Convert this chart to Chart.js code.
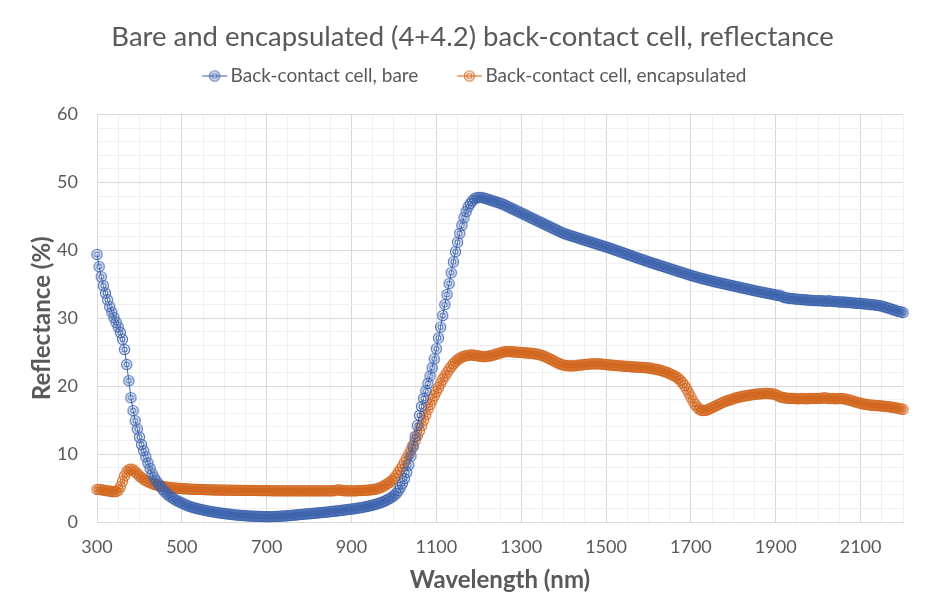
<!DOCTYPE html>
<html>
<head>
<meta charset="utf-8">
<script src="https://cdn.jsdelivr.net/npm/chart.js@4.4.1/dist/chart.umd.min.js"></script>
<style>
  html, body { margin: 0; padding: 0; background: #fff; }
  #wrap { width: 926px; height: 608px; }
</style>
</head>
<body>
<div id="wrap"><canvas id="chart"></canvas></div>
<script>
// spectra sampled every 5 nm from 300 to 2200 nm
const wlStart = 300
const wlStep = 5

// reflectance (%), one row per 100 nm
const bare = [
  39.4, 37.6, 36.1, 34.8, 33.7, 32.7, 31.7, 30.9, 30.1, 29.4, 28.7, 27.9, 26.9, 25.4, 23.2, 20.8, 18.3, 16.4, 14.9, 13.7,
  12.5, 11.4, 10.5, 9.6, 8.7, 7.9, 7.1, 6.5, 6.0, 5.6, 5.2, 4.8, 4.45, 4.15, 3.9, 3.65, 3.45, 3.25, 3.1, 2.95,
  2.8, 2.65, 2.5, 2.38, 2.27, 2.17, 2.08, 2.0, 1.92, 1.85, 1.78, 1.71, 1.65, 1.59, 1.53, 1.48, 1.43, 1.38, 1.33, 1.29,
  1.25, 1.21, 1.17, 1.13, 1.09, 1.06, 1.03, 1.0, 0.97, 0.95, 0.93, 0.91, 0.89, 0.87, 0.85, 0.84, 0.83, 0.82, 0.81, 0.8,
  0.8, 0.8, 0.8, 0.81, 0.82, 0.83, 0.85, 0.87, 0.89, 0.91, 0.93, 0.96, 0.99, 1.02, 1.05, 1.08, 1.11, 1.14, 1.17, 1.2,
  1.22, 1.25, 1.28, 1.31, 1.34, 1.37, 1.4, 1.43, 1.46, 1.49, 1.53, 1.57, 1.6, 1.63, 1.67, 1.71, 1.75, 1.79, 1.83, 1.87,
  1.91, 1.95, 2.0, 2.05, 2.1, 2.16, 2.22, 2.28, 2.35, 2.42, 2.5, 2.58, 2.67, 2.77, 2.88, 3.0, 3.14, 3.3, 3.48, 3.68,
  3.9, 4.2, 4.6, 5.1, 5.7, 6.4, 7.3, 8.4, 9.7, 11.1, 12.6, 14.2, 15.7, 17.0, 18.2, 19.3, 20.4, 21.5, 22.7, 24.0,
  25.5, 27.1, 28.7, 30.4, 32.0, 33.5, 35.1, 36.7, 38.3, 39.8, 41.2, 42.5, 43.7, 44.8, 45.7, 46.4, 46.9, 47.3, 47.6, 47.75,
  47.8, 47.8, 47.75, 47.65, 47.55, 47.45, 47.35, 47.25, 47.15, 47.05, 46.95, 46.85, 46.7, 46.55, 46.4, 46.25, 46.1, 45.95, 45.8, 45.65,
  45.5, 45.35, 45.2, 45.05, 44.9, 44.75, 44.6, 44.45, 44.3, 44.15, 44.0, 43.85, 43.7, 43.55, 43.4, 43.25, 43.1, 42.95, 42.8, 42.65,
  42.5, 42.4, 42.3, 42.2, 42.1, 42.0, 41.9, 41.8, 41.7, 41.6, 41.5, 41.4, 41.3, 41.2, 41.1, 41.0, 40.9, 40.8, 40.7, 40.6,
  40.5, 40.4, 40.3, 40.19, 40.08, 39.97, 39.86, 39.75, 39.64, 39.53, 39.42, 39.31, 39.2, 39.09, 38.98, 38.87, 38.76, 38.65, 38.54, 38.43,
  38.32, 38.22, 38.12, 38.02, 37.92, 37.82, 37.72, 37.62, 37.52, 37.42, 37.32, 37.22, 37.12, 37.02, 36.92, 36.82, 36.72, 36.62, 36.52, 36.42,
  36.32, 36.23, 36.14, 36.05, 35.96, 35.88, 35.8, 35.72, 35.64, 35.56, 35.48, 35.4, 35.33, 35.26, 35.19, 35.12, 35.05, 34.98, 34.91, 34.84,
  34.77, 34.7, 34.63, 34.56, 34.49, 34.42, 34.35, 34.28, 34.21, 34.14, 34.07, 34.0, 33.93, 33.87, 33.81, 33.75, 33.69, 33.63, 33.57, 33.51,
  33.45, 33.35, 33.4, 33.2, 33.05, 33.0, 32.95, 32.9, 32.9, 32.85, 32.8, 32.8, 32.75, 32.75, 32.7, 32.7, 32.65, 32.65, 32.6, 32.6,
  32.6, 32.6, 32.55, 32.55, 32.5, 32.6, 32.5, 32.5, 32.45, 32.45, 32.4, 32.4, 32.4, 32.35, 32.35, 32.3, 32.3, 32.25, 32.2, 32.2,
  32.2, 32.15, 32.1, 32.1, 32.05, 32.0, 32.0, 31.95, 31.9, 31.85, 31.8, 31.7, 31.6, 31.5, 31.4, 31.3, 31.2, 31.1, 31.0, 30.95,
  30.85
]

const encapsulated = [
  4.8, 4.8, 4.75, 4.7, 4.65, 4.6, 4.55, 4.5, 4.45, 4.5, 4.7, 5.2, 6.0, 6.8, 7.4, 7.7, 7.8, 7.7, 7.4, 7.1,
  6.8, 6.55, 6.3, 6.1, 5.95, 5.8, 5.65, 5.55, 5.45, 5.37, 5.3, 5.24, 5.18, 5.13, 5.09, 5.05, 5.02, 5.0, 4.97, 4.95,
  4.93, 4.91, 4.89, 4.87, 4.85, 4.83, 4.82, 4.81, 4.8, 4.79, 4.78, 4.77, 4.76, 4.75, 4.74, 4.73, 4.72, 4.72, 4.71, 4.7,
  4.7, 4.69, 4.69, 4.68, 4.68, 4.67, 4.67, 4.66, 4.66, 4.65, 4.65, 4.65, 4.64, 4.64, 4.64, 4.63, 4.63, 4.63, 4.62, 4.62,
  4.62, 4.62, 4.61, 4.61, 4.61, 4.61, 4.6, 4.6, 4.6, 4.6, 4.6, 4.6, 4.6, 4.6, 4.6, 4.6, 4.6, 4.6, 4.6, 4.6,
  4.6, 4.6, 4.6, 4.6, 4.6, 4.6, 4.6, 4.6, 4.6, 4.6, 4.6, 4.6, 4.62, 4.7, 4.75, 4.68, 4.62, 4.6, 4.6, 4.6,
  4.6, 4.6, 4.61, 4.62, 4.63, 4.64, 4.66, 4.68, 4.71, 4.74, 4.78, 4.83, 4.9, 5.0, 5.12, 5.27, 5.45, 5.65, 5.85, 6.1,
  6.4, 6.8, 7.3, 7.75, 8.2, 8.8, 9.4, 10.0, 10.6, 11.3, 12.0, 12.7, 13.4, 14.2, 15.0, 15.8, 16.6, 17.3, 18.0, 18.6,
  19.2, 19.8, 20.4, 21.0, 21.5, 22.0, 22.5, 22.9, 23.3, 23.6, 23.9, 24.1, 24.3, 24.4, 24.5, 24.55, 24.6, 24.6, 24.55, 24.5,
  24.45, 24.4, 24.35, 24.35, 24.4, 24.45, 24.5, 24.6, 24.7, 24.8, 24.9, 25.0, 25.05, 25.1, 25.1, 25.1, 25.05, 25.05, 25.0, 25.0,
  24.95, 24.95, 24.9, 24.9, 24.85, 24.85, 24.8, 24.75, 24.7, 24.6, 24.5, 24.4, 24.25, 24.1, 23.95, 23.8, 23.6, 23.45, 23.3, 23.2,
  23.1, 23.05, 23.0, 23.0, 23.0, 23.0, 23.05, 23.1, 23.1, 23.15, 23.2, 23.2, 23.25, 23.3, 23.3, 23.3, 23.3, 23.3, 23.25, 23.2,
  23.2, 23.15, 23.1, 23.1, 23.05, 23.05, 23.0, 23.0, 22.95, 22.95, 22.9, 22.9, 22.85, 22.85, 22.8, 22.8, 22.8, 22.75, 22.75, 22.7,
  22.7, 22.65, 22.6, 22.5, 22.45, 22.4, 22.3, 22.2, 22.1, 22.0, 21.85, 21.7, 21.55, 21.4, 21.15, 20.85, 20.5, 20.1, 19.6, 19.0,
  18.4, 17.8, 17.3, 16.9, 16.6, 16.45, 16.4, 16.45, 16.55, 16.7, 16.85, 17.0, 17.15, 17.3, 17.45, 17.6, 17.75, 17.85, 17.95, 18.05,
  18.15, 18.25, 18.35, 18.4, 18.5, 18.55, 18.6, 18.65, 18.7, 18.75, 18.8, 18.85, 18.85, 18.9, 18.9, 18.95, 18.95, 18.9, 18.9, 18.85,
  18.75, 18.6, 18.45, 18.35, 18.3, 18.25, 18.2, 18.2, 18.2, 18.2, 18.15, 18.15, 18.2, 18.2, 18.15, 18.15, 18.2, 18.2, 18.2, 18.2,
  18.2, 18.2, 18.25, 18.3, 18.25, 18.15, 18.2, 18.2, 18.15, 18.15, 18.2, 18.2, 18.15, 18.1, 18.0, 17.95, 17.85, 17.75, 17.65, 17.55,
  17.5, 17.4, 17.35, 17.3, 17.25, 17.2, 17.2, 17.15, 17.15, 17.1, 17.1, 17.05, 17.0, 17.0, 16.95, 16.9, 16.85, 16.8, 16.7, 16.65,
  16.6
]

const seriesNames = ['Back-contact cell, bare', 'Back-contact cell, encapsulated']
const seriesColors = ['#3d63ad', '#d2661d']

const chartTitle = 'Bare and encapsulated (4+4.2) back-contact cell, reflectance'
const xTitle = 'Wavelength (nm)'
const yTitle = 'Reflectance (%)'

const gray = '#595959'
const font = 'Lato'

// legend icon box width and where the icon centre sits inside it
const iconBox = 22.5
const iconCenter = 16

// double-ring marker, optionally with a short line through it (legend)
function ringMarker(color, width, cx, withLine) {
    const c = document.createElement('canvas')
    c.width = width
    c.height = 13
    const g = c.getContext('2d')
    g.strokeStyle = color
    g.lineWidth = 1.1
    if (withLine) {
        g.beginPath()
        g.moveTo(cx - 12.5, 6.5)
        g.lineTo(cx + 12.5, 6.5)
        g.stroke()
    }
    g.beginPath()
    g.arc(cx, 6.5, 5, 0, Math.PI * 2)
    g.stroke()
    g.beginPath()
    g.arc(cx, 6.5, 2.5, 0, Math.PI * 2)
    g.stroke()
    return c
}

function toPoints(values) {
    return values.map((v, i) => ({ x: wlStart + i * wlStep, y: v }))
}

// canvas is twice the box wide and gets drawn centred on the box
const legendIcons = seriesColors.map(c => ringMarker(c, iconBox * 2, iconBox / 2 + iconCenter, true))

// extra room between the legend and the plot
const legendGap = {
    id: 'legendGap',
    beforeInit(chart) {
        const fit = chart.legend.fit
        chart.legend.fit = function () {
            fit.call(this)
            this.height += 19
        }
    }
}

new Chart(document.getElementById('chart'), {
    type: 'line',
    data: {
        datasets: [bare, encapsulated].map((vals, i) => ({
            label: seriesNames[i],
            data: toPoints(vals),
            borderColor: seriesColors[i],
            borderWidth: 1,
            pointStyle: ringMarker(seriesColors[i], 13, 6.5, false),
            pointRadius: 5,
            tension: 0,
            clip: false
        }))
    },
    options: {
        responsive: true,
        maintainAspectRatio: false,
        animation: false,
        layout: { padding: { left: 42, right: 23, top: 0, bottom: 0 } },
        scales: {
            x: {
                type: 'linear',
                min: 300,
                max: 2200,
                afterFit: s => { s.height = 86 },
                border: { color: '#d9d9d9' },
                grid: {
                    drawTicks: false,
                    color: c => (c.tick && (c.tick.value - 300) % 200 === 0) ? '#d9d9d9' : '#f0f0f0'
                },
                ticks: {
                    stepSize: 50,
                    autoSkip: false,
                    maxRotation: 0,
                    padding: 14,
                    color: gray,
                    font: { family: font, size: 18 },
                    callback: v => ((v - 300) % 200 === 0 && v < 2200) ? v : ''
                },
                title: {
                    display: true,
                    text: xTitle,
                    color: gray,
                    font: { family: font, size: 24, weight: 'bold' },
                    padding: { top: 0, bottom: 13 }
                }
            },
            y: {
                min: 0,
                max: 60,
                afterFit: s => { s.width = 55 },
                border: { color: '#d9d9d9' },
                grid: {
                    drawTicks: false,
                    color: c => (c.tick && c.tick.value % 10 === 0) ? '#d9d9d9' : '#f0f0f0'
                },
                ticks: {
                    stepSize: 2,
                    autoSkip: false,
                    padding: 19,
                    color: gray,
                    font: { family: font, size: 18 },
                    callback: v => v % 10 === 0 ? v : ''
                },
                title: {
                    display: true,
                    text: yTitle,
                    color: gray,
                    font: { family: font, size: 24, weight: 'bold' },
                    padding: { top: -14, bottom: 0 }
                }
            }
        },
        plugins: {
            title: {
                display: true,
                text: chartTitle,
                color: gray,
                font: { family: font, size: 27.5, weight: 'normal' },
                padding: { top: 20.5, bottom: -22 }
            },
            legend: {
                position: 'top',
                labels: {
                    usePointStyle: true,
                    pointStyleWidth: iconBox,
                    padding: 35,
                    color: gray,
                    font: { family: font, size: 19 },
                    generateLabels: chart => chart.data.datasets.map((ds, i) => ({
                        text: ds.label,
                        fontColor: gray,
                        pointStyle: legendIcons[i],
                        datasetIndex: i,
                        hidden: false,
                        lineWidth: 0,
                        strokeStyle: 'transparent',
                        fillStyle: 'transparent'
                    }))
                }
            },
            tooltip: { enabled: false }
        }
    },
    plugins: [legendGap]
})
</script>
</body>
</html>
